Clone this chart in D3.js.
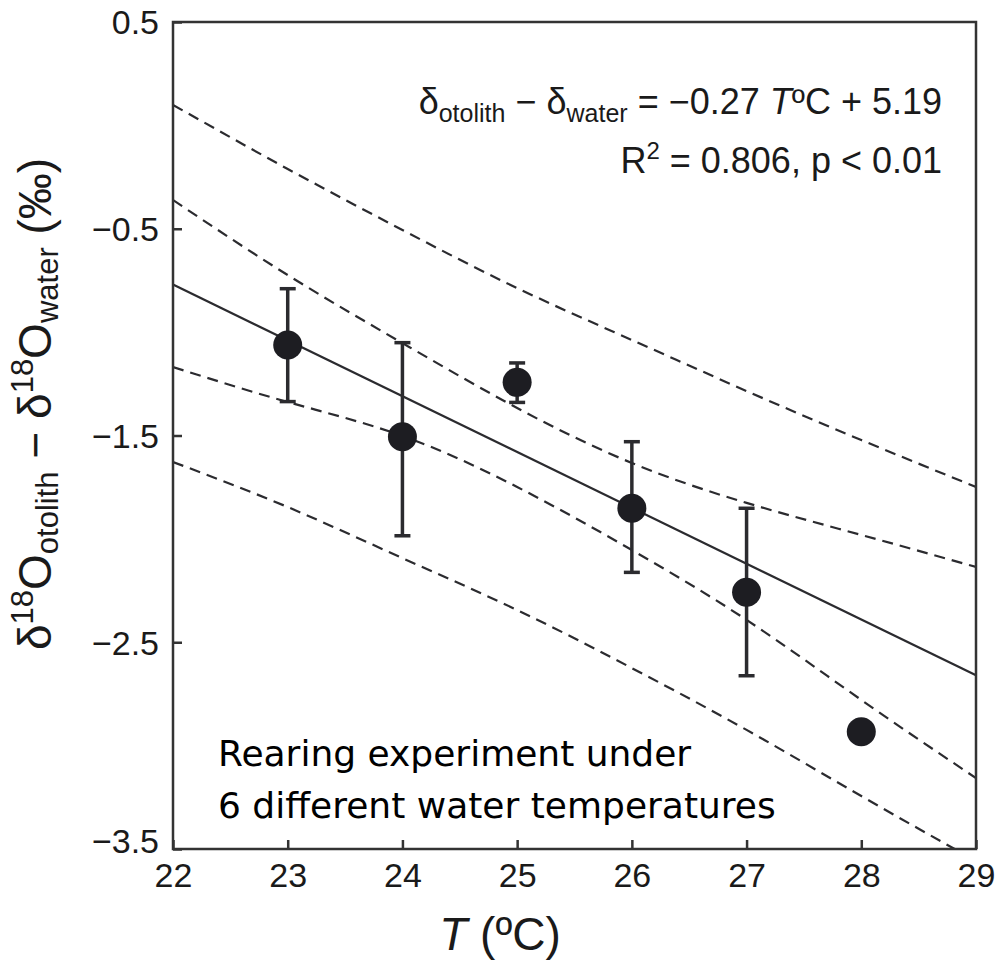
<!DOCTYPE html>
<html>
<head>
<meta charset="utf-8">
<script src="https://cdn.jsdelivr.net/npm/d3@7"></script>
<style>
  html, body { margin: 0; padding: 0; background: #fff; }
  svg { display: block; }
</style>
</head>
<body>
<svg id="chart" width="996" height="962"></svg>
<script>
// ---- data ----
const temps = [23, 24, 25, 26, 27, 28];
const means = [-1.062, -1.506, -1.243, -1.852, -2.258, -2.933];
const errHigh = [-0.79, -1.051, -1.149, -1.53, -1.852, null];
const errLow  = [-1.336, -1.985, -1.34, -2.162, -2.662, null];

const fitT = [22, 29];
const fitV = [-0.77, -2.66];

const bandT = [22, 23, 24, 25, 26, 27, 28, 29];
const predUpper = [0.099, -0.211, -0.506, -0.787, -1.038, -1.285, -1.522, -1.749];
const confUpper = [-0.361, -0.724, -1.053, -1.367, -1.633, -1.826, -1.981, -2.136];
const confLower = [-1.169, -1.338, -1.502, -1.749, -2.054, -2.392, -2.779, -3.157];
const predLower = [-1.628, -1.846, -2.093, -2.344, -2.625, -2.924, -3.244, -3.558];

const xTicks = [22, 23, 24, 25, 26, 27, 28, 29];
const yTicks = [0.5, -0.5, -1.5, -2.5, -3.5];
const yTickLabels = ["0.5", "\u22120.5", "\u22121.5", "\u22122.5", "\u22123.5"];

// ---- layout ----
const svg = d3.select("#chart");
const L = 173, R = 976, T = 22, B = 849;
const x = d3.scaleLinear().domain([22, 29]).range([L, R]);
const y = d3.scaleLinear().domain([0.5, -3.5]).range([T, B]);
const ink = "#2b2b2f";
const sans = "'Liberation Sans', Arial, Helvetica, sans-serif";

svg.append("defs").append("clipPath").attr("id", "plotclip")
  .append("rect").attr("x", L).attr("y", T).attr("width", R - L).attr("height", B - T);

const plot = svg.append("g").attr("clip-path", "url(#plotclip)");

// bands (dashed)
const bandLine = d3.line().x((d, i) => x(bandT[i])).y(d => y(d)).curve(d3.curveNatural);
[predUpper, confUpper, confLower, predLower].forEach(arr => {
  plot.append("path").attr("d", bandLine(arr))
    .attr("fill", "none").attr("stroke", ink).attr("stroke-width", 2.2)
    .attr("stroke-dasharray", "11,7");
});

// fit line
plot.append("line")
  .attr("x1", x(fitT[0])).attr("y1", y(fitV[0]))
  .attr("x2", x(fitT[1])).attr("y2", y(fitV[1]))
  .attr("stroke", ink).attr("stroke-width", 2.2);

// error bars
const eb = plot.append("g").attr("stroke", ink).attr("stroke-width", 3.5);
temps.forEach((t, i) => {
  if (errHigh[i] === null) return;
  const cx = x(t);
  eb.append("line").attr("x1", cx).attr("x2", cx).attr("y1", y(errHigh[i])).attr("y2", y(errLow[i]));
  eb.append("line").attr("x1", cx - 8).attr("x2", cx + 8).attr("y1", y(errHigh[i])).attr("y2", y(errHigh[i]));
  eb.append("line").attr("x1", cx - 8).attr("x2", cx + 8).attr("y1", y(errLow[i])).attr("y2", y(errLow[i]));
});

// points
plot.selectAll("circle.pt").data(temps).join("circle")
  .attr("class", "pt")
  .attr("cx", d => x(d)).attr("cy", (d, i) => y(means[i])).attr("r", 14.5)
  .attr("fill", "#1d1d22");

// frame
svg.append("rect").attr("x", L).attr("y", T).attr("width", R - L).attr("height", B - T)
  .attr("fill", "none").attr("stroke", "#333").attr("stroke-width", 2.5);

// axes
const xAxis = d3.axisBottom(x).tickValues(xTicks).tickSizeInner(-9).tickSizeOuter(0).tickFormat(d3.format("d"));
const gx = svg.append("g").attr("transform", `translate(0,${B})`).call(xAxis);
gx.select(".domain").remove();
gx.selectAll(".tick line").attr("stroke", "#333").attr("stroke-width", 2.5);
gx.selectAll(".tick text").attr("fill", "#1a1a1a").attr("font-family", sans)
  .attr("font-size", 34).attr("y", 0).attr("dy", 0)
  .attr("transform", "translate(0,38)");

const yAxis = d3.axisLeft(y).tickValues(yTicks).tickSizeInner(-9).tickSizeOuter(0)
  .tickFormat((d, i) => yTickLabels[i]);
const gy = svg.append("g").attr("transform", `translate(${L},0)`).call(yAxis);
gy.select(".domain").remove();
gy.selectAll(".tick line").attr("stroke", "#333").attr("stroke-width", 2.5);
gy.selectAll(".tick text").attr("fill", "#1a1a1a").attr("font-family", sans)
  .attr("font-size", 34).attr("x", -14).attr("dy", (d) => d === -3.5 ? "0.1em" : "0.35em");

// x label
const xl = svg.append("text").attr("x", 500).attr("y", 950).attr("text-anchor", "middle")
  .attr("font-family", sans).attr("font-size", 46).attr("fill", "#1a1a1a");
xl.append("tspan").attr("font-style", "italic").text("T");
xl.append("tspan").text(" (\u00baC)");

// y label
const yl = svg.append("text").attr("transform", "translate(51,650) rotate(-90)")
  .attr("text-anchor", "start").attr("font-family", sans).attr("font-size", 46).attr("fill", "#1a1a1a");
yl.append("tspan").text("\u03b4");
yl.append("tspan").attr("font-size", 31).attr("dy", -18).text("18");
yl.append("tspan").attr("dy", 18).text("O");
yl.append("tspan").attr("font-size", 31).attr("dy", 7).text("otolith");
yl.append("tspan").attr("dy", -7).text(" \u2212 \u03b4");
yl.append("tspan").attr("font-size", 31).attr("dy", -18).text("18");
yl.append("tspan").attr("dy", 18).text("O");
yl.append("tspan").attr("font-size", 31).attr("dy", 7).text("water");
yl.append("tspan").attr("dy", -7).text(" (\u2030)");

// equation
const eq1 = svg.append("text").attr("x", 942).attr("y", 114).attr("text-anchor", "end")
  .attr("font-family", sans).attr("font-size", 36).attr("fill", "#1a1a1a");
eq1.append("tspan").text("\u03b4");
eq1.append("tspan").attr("font-size", 25).attr("dy", 8).text("otolith");
eq1.append("tspan").attr("dy", -8).text(" \u2212 \u03b4");
eq1.append("tspan").attr("font-size", 25).attr("dy", 8).text("water");
eq1.append("tspan").attr("dy", -8).text(" = \u22120.27 ");
eq1.append("tspan").attr("font-style", "italic").text("T");
eq1.append("tspan").text("\u00baC + 5.19");

const eq2 = svg.append("text").attr("x", 942).attr("y", 173).attr("text-anchor", "end")
  .attr("font-family", sans).attr("font-size", 36).attr("fill", "#1a1a1a");
eq2.append("tspan").text("R");
eq2.append("tspan").attr("font-size", 24).attr("dy", -14).text("2");
eq2.append("tspan").attr("dy", 14).text(" = 0.806, p < 0.01");

// annotation
const note = svg.append("text").attr("font-family", "'DejaVu Sans', Verdana, sans-serif")
  .attr("font-size", 36).attr("fill", "#000");
note.append("tspan").attr("x", 218).attr("y", 766).text("Rearing experiment under");
note.append("tspan").attr("x", 218).attr("y", 818).text("6 different water temperatures");
</script>
</body>
</html>
